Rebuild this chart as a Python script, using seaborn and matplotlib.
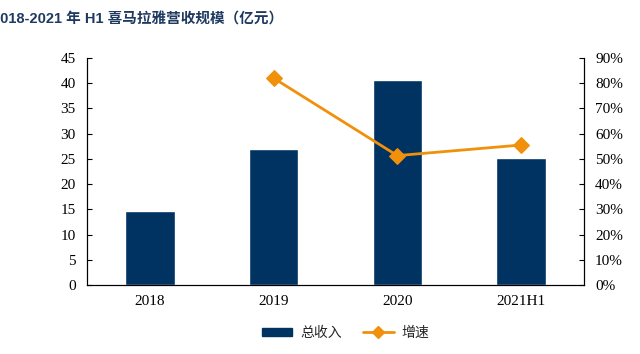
import matplotlib
matplotlib.use("Agg")
import matplotlib.pyplot as plt
import seaborn as sns
import pandas as pd
from matplotlib.ticker import PercentFormatter, MultipleLocator
from matplotlib.lines import Line2D
from matplotlib.patches import Patch

categories = ["2018", "2019", "2020", "2021H1"]
revenue = [14.7, 26.9, 40.6, 25.2]
growth_cats = ["2019", "2020", "2021H1"]
growth = [82.0, 51.3, 55.5]

sns.set_theme(style="white")
plt.rcParams['font.family'] = ['Liberation Serif', 'Noto Sans CJK SC', 'DejaVu Sans']

bar_color = "#003362"
line_color = "#f0900b"

fig = plt.figure(figsize=(6.4, 3.54), dpi=100)
ax = fig.add_axes([87/640, 1-285/354, (584-87)/640, (285-58)/354])

df = pd.DataFrame({"cat": categories, "rev": revenue})
sns.barplot(data=df, x="cat", y="rev", color=bar_color, width=0.4, ax=ax, saturation=1)
ax.set_xlim(-0.51, 3.51)
ax.set_ylim(0, 45)
ax.yaxis.set_major_locator(MultipleLocator(5))
ax.set_xlabel("")
ax.set_ylabel("")

ax2 = ax.twinx()
gx = [categories.index(c) for c in growth_cats]
sns.lineplot(x=gx, y=growth, ax=ax2, color=line_color, marker="D", markersize=8,
             markeredgecolor=line_color, linewidth=2)
ax2.set_ylim(0, 90)
ax2.yaxis.set_major_locator(MultipleLocator(10))
ax2.yaxis.set_major_formatter(PercentFormatter(decimals=0))
ax2.set_xlim(-0.51, 3.51)

for a in (ax, ax2):
    a.spines['top'].set_visible(False)
    for s in ('left', 'right', 'bottom'):
        a.spines[s].set_color("#000000")
        a.spines[s].set_linewidth(0.8)
    a.tick_params(labelsize=11, colors="#000000", length=3.5, width=0.8)
    a.grid(False)
ax.tick_params(axis='x', length=0, pad=7)
ax.tick_params(axis='y', direction='in', left=True, pad=8)
ax2.tick_params(axis='y', direction='in', right=True, pad=8)

for lbl in ax.get_xticklabels() + ax.get_yticklabels() + ax2.get_yticklabels():
    lbl.set_fontfamily(['Liberation Serif'])

fig.text(-0.012, 0.945, "2018-2021 年 H1 喜马拉雅营收规模（亿元）", fontsize=10.5,
         fontweight='bold', color="#1f3a60",
         family=['Liberation Sans', 'Noto Sans CJK SC'], ha='left', va='center')

handles = [Patch(facecolor=bar_color, edgecolor=bar_color),
           Line2D([0], [0], color=line_color, marker="D", markersize=6.5, linewidth=2)]
fig.legend(handles, ["总收入", "增速"], loc='center', bbox_to_anchor=(0.54, 0.06),
           ncol=2, frameon=False, prop={'family': ['Noto Sans CJK SC'], 'size': 10},
           handlelength=2.2, handleheight=0.5, columnspacing=1.5, handletextpad=0.6)

fig.savefig("out.png", dpi=100)
